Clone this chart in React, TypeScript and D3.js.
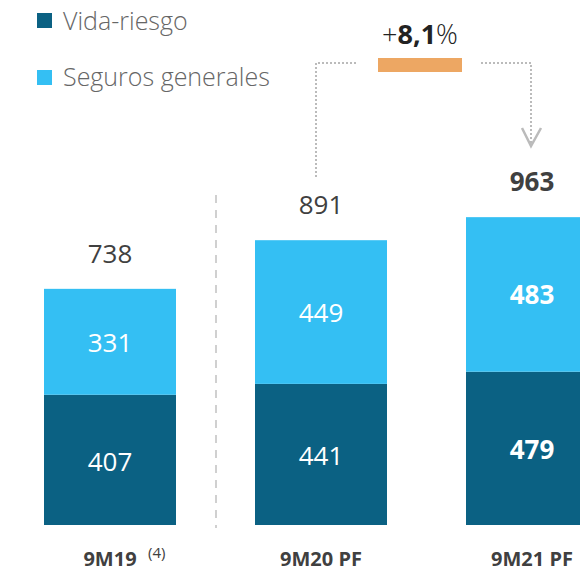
import React from "react";
import * as d3 from "d3";

const categories = ["9M19", "9M20 PF", "9M21 PF"];
const vidaRiesgo = [407, 441, 479];
const segurosGenerales = [331, 449, 483];
const totals = [738, 891, 963];
const seriesNames = ["Vida-riesgo", "Seguros generales"];
const growthLabel = { sign: "+", value: "8,1", unit: "%" };
const footnote = "(4)";

const W = 580;
const H = 573;
const DARK = "#0B6183";
const LIGHT = "#34BFF3";
const TEXT = "#404040";
const FONT = "'Open Sans', 'Noto Sans', sans-serif";

export default function App() {
  const x = d3.scaleBand<string>().domain(categories).range([44, 598]).paddingInner(79 / 211).paddingOuter(0);
  const y = d3.scaleLinear().domain([0, 1000]).range([525, 205]);
  const bw = x.bandwidth();
  const cx = (c: string) => (x(c) as number) + bw / 2;
  const boldIdx = 2;

  const c1 = cx(categories[1]);
  const c2 = cx(categories[2]);
  const lineY = 63;

  return (
    <svg width={W} height={H} style={{ position: "absolute", left: 0, top: 0, fontFamily: FONT }}>
      {/* legend */}
      <rect x={37} y={13} width={15} height={15} fill={DARK} />
      <text x={63} y={30} fontSize={25} fill="#666" fontWeight={300}>{seriesNames[0]}</text>
      <rect x={37} y={70} width={15} height={15} fill={LIGHT} />
      <text x={63} y={86} fontSize={25} fill="#666" fontWeight={300}>{seriesNames[1]}</text>

      {/* separator */}
      <line x1={216} x2={216} y1={195} y2={528} stroke="#D0D0D0" strokeWidth={2} strokeDasharray="8 7" />

      {categories.map((c, i) => {
        const x0 = x(c) as number;
        const yb = y(vidaRiesgo[i]);
        const yt = y(vidaRiesgo[i] + segurosGenerales[i]);
        const fw = i === boldIdx ? 700 : 400;
        return (
          <g key={c}>
            <rect x={x0} y={yb} width={bw} height={y(0) - yb} fill={DARK} />
            <rect x={x0} y={yt} width={bw} height={yb - yt} fill={LIGHT} />
            <text x={cx(c)} y={(yb + y(0)) / 2 + 11} textAnchor="middle" fontSize={26} fill="#fff" fontWeight={fw}>{vidaRiesgo[i]}</text>
            <text x={cx(c)} y={(yt + yb) / 2 + 10} textAnchor="middle" fontSize={26} fill="#fff" fontWeight={fw}>{segurosGenerales[i]}</text>
            <text x={cx(c)} y={y(totals[i]) - 26} textAnchor="middle" fontSize={26} fill={TEXT} fontWeight={fw}>{totals[i]}</text>
            <text x={cx(c)} y={566} textAnchor="middle" fontSize={20} fill={TEXT} fontWeight={700}>{c}</text>
          </g>
        );
      })}
      <text x={148} y={558} fontSize={15} fill={TEXT}>{footnote}</text>

      {/* growth annotation */}
      <path d={`M${c1 - 5},177 V${lineY} H358`} fill="none" stroke="#BBBBBB" strokeWidth={2} strokeDasharray="2 2" />
      <path d={`M481,${lineY} H${c2 - 1} V146`} fill="none" stroke="#BBBBBB" strokeWidth={2} strokeDasharray="2 2" />
      <path d={`M${c2 - 10},128 L${c2 - 1},146 L${c2 + 9},128`} fill="none" stroke="#BBBBBB" strokeWidth={2.5} />
      <rect x={378} y={58} width={84} height={14} fill="#EDA763" />
      <text x={420} y={44} textAnchor="middle" fontSize={27} fill="#222">
        <tspan fontWeight={300}>{growthLabel.sign}</tspan>
        <tspan fontWeight={700}>{growthLabel.value}</tspan>
        <tspan fontWeight={300}>{growthLabel.unit}</tspan>
      </text>
    </svg>
  );
}
